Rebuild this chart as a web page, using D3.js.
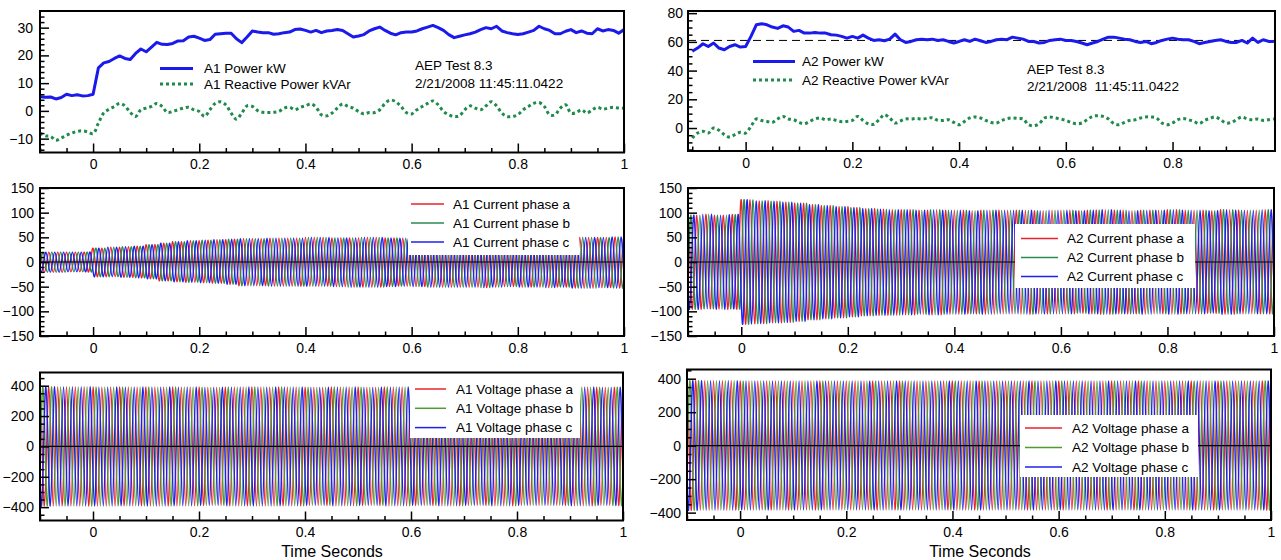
<!DOCTYPE html>
<html>
<head>
<meta charset="utf-8">
<script src="https://cdn.jsdelivr.net/npm/d3@7"></script>
<style>
  body { margin: 0; background: #fff; }
  svg { display: block; font-family: "Liberation Sans", Arial, Helvetica, sans-serif; }
</style>
</head>
<body>
<script>
// ---- data ----
// power traces: one sample every 10 ms starting at -0.1 s
const powerT0 = -0.1;
const powerStep = 0.01;

const a1Power = [
  5.1, 4.9, 5, 4.3, 4.8, 6, 5.5, 5.8, 5.4, 5.5,
  6,
  15.5, 17.3, 17.8, 18.9, 19.8, 18.9, 18.5, 20.7, 22.3, 21.3,
  23, 24.7, 24, 23.9, 24.3, 25.2, 25.3, 26.6, 26.9, 26.2,
  25.4, 25.7, 27.6, 27.8, 28, 28, 26, 24.6, 26.6, 28.8,
  28.4, 28.2, 28.2, 27.6, 27.8, 28.2, 28.4, 29.3, 29.5, 29,
  28.4, 29, 28.2, 28.8, 29, 29.3, 29, 27.8, 26.6, 27,
  27.5, 28.8, 29.6, 30.2, 29, 28, 27.4, 28.2, 28.4, 28.4,
  28.8, 29.6, 30.2, 30.8, 30, 29, 27.5, 26.4, 26.9, 27.4,
  27.8, 28.4, 29.3, 30, 29.6, 30.5, 28.8, 28.2, 27.8, 27.5,
  27.8, 28.4, 29, 30.5, 29.6, 29, 27.8, 27.8, 28.7, 29.3,
  28.2, 28.8, 28, 27.8, 29.6, 28.8, 29.3, 29, 28, 29.3
];
const a1Reactive = [
  -8, -9, -9.2, -10.6, -9.8, -8.8, -8, -7.4, -7.2, -7.6,
  -8.2,
  -4.4, -0.8, 0.6, 1.6, 2.7, 1.8, -0.6, -2, 0.4, 1,
  1.6, 2.7, 1.6, -0.6, -0.2, 0.4, 1, 1.3, 0.4, -0.2,
  -2, 0.4, 2.7, 3.3, 2.2, -0.8, -3, -0.8, 1.8, 1.6,
  0.1, -0.5, -0.6, -0.5, -0.2, 1, 1.3, 0.4, 1.3, 1.8,
  2.5, 1.3, -1.4, -1.8, -0.8, 1, 2.5, 1.6, 1, -0.2,
  -1.1, -0.6, -0.6, 0.4, 2.7, 3.9, 3.3, 1.6, -0.6, -1.1,
  0.4, 1.6, 2.7, 3.6, 2.2, -0.2, -1.4, -2, -1.8, 0.4,
  1.8, 1, 0.4, 1.8, 3.3, 1.8, -0.8, -2, -2, -1.4,
  0.4, 1.6, 2.7, 3, 1.6, -1.4, -1.4, 1, 2.2, -0.8,
  -0.6, 0.4, -0.8, 0.4, 1.3, 0.6, 1, 1.3, 1, 1
];
const a2Power = [
  53.4, 55.7, 58.7, 56.8, 59.2, 55.7, 54.5, 56.8, 58, 56.4,
  56.8,
  63.8, 71.9, 72.6, 71.9, 70.3, 69.4, 71.2, 70.3, 67.3, 68,
  66.1, 66.1, 66.6, 66.1, 66.1, 65, 64.7, 63.8, 62.6, 63.8,
  62.6, 64.7, 62.6, 61, 61.5, 60.8, 61.9, 65.4, 61.5, 59.6,
  60.3, 61.5, 61.9, 61.5, 61.9, 61, 61.5, 60.3, 59.2, 60.3,
  61.5, 60.3, 61.9, 60.8, 59.6, 60.3, 61.5, 61.9, 61.5, 63.3,
  62.6, 61.9, 60.3, 60.3, 59.2, 59.6, 61, 61.5, 61.9, 61,
  61, 60.3, 59.2, 58, 59.2, 60.3, 61.9, 63.3, 63.3, 62.6,
  61.9, 61.5, 60.3, 59.6, 60.3, 58.7, 59.6, 61, 61.9, 62.6,
  61.9, 61.5, 61.5, 60.3, 58.7, 59.6, 60.3, 61, 61.5, 60.3,
  59.6, 59.6, 61, 59.2, 62.6, 59.6, 61.5, 60.3, 60.3
];
const a2Reactive = [
  -7, -3.5, -2.3, -3.5, 0, -1.6, -4.6, -6.3, -4.6, -3,
  -3.5,
  1.2, 6.3, 5.3, 4.6, 3.9, 6.3, 8.1, 6.3, 5.8, 3.9,
  3, 4.6, 6.3, 7, 5.8, 6.3, 5.3, 4.4, 4.6, 5.3,
  8.1, 5.3, 3, 2.6, 5.8, 9.3, 7, 3.5, 4.9, 6.3,
  6.3, 6.7, 6.3, 6.7, 7.2, 5.3, 5.3, 5.8, 3.9, 2.3,
  4.6, 7, 7.7, 7, 5.3, 3.9, 3.5, 5.3, 6.5, 7,
  6.7, 6.3, 2.3, 1.6, 3, 7, 7.7, 7, 6.3, 5.3,
  3.9, 3, 3.5, 5.8, 8.1, 8.6, 8.1, 6.3, 3, 2.3,
  3.9, 5.3, 5.8, 7, 7.7, 7.7, 7, 3.5, 2.3, 3.5,
  5.8, 6.7, 5.8, 4.6, 3, 5.3, 6.7, 7.7, 5.8, 3.5,
  3.9, 5.8, 7.7, 6.3, 5.8, 6.3, 5.3, 5.8, 6.3
];
const a2PowerRef = 61; // dashed reference level

// waveforms: 60 Hz, peak envelopes per segment starting at -0.1 s
const lineFreq = 60;
const waveT0 = -0.1;
const currentEnvStep = 0.025;
const voltageEnvStep = 0.05;
const a1CurrentPos = [
  20, 20, 20, 20, 28, 30, 31, 32, 35, 38, 41, 43, 44, 45, 46, 47, 47, 48, 48, 48, 50, 50,
  49, 49, 50, 50, 49, 48, 48, 49, 49, 49, 49, 49, 50, 50, 49, 48, 48, 49, 50, 50, 50, 51
];
const a1CurrentNeg = [
  -21, -21, -20, -20, -30, -30, -31, -32, -34, -38, -40, -41, -42, -43, -45, -48, -48, -49, -49, -49, -49, -49,
  -50, -51, -51, -51, -50, -49, -50, -51, -51, -51, -51, -52, -51, -50, -51, -51, -52, -51, -53, -53, -52, -53
];
const a2CurrentPos = [
  95, 97, 95, 96, 126, 124, 123, 121, 119, 116, 114, 112, 110, 108, 107, 106, 106, 105, 106, 105, 105, 104,
  105, 105, 105, 105, 104, 105, 105, 104, 105, 106, 105, 104, 105, 105, 106, 105, 105, 104, 106, 105, 105, 106
];
const a2CurrentNeg = [
  -96, -95, -96, -95, -126, -125, -123, -122, -120, -117, -115, -113, -111, -109, -108, -108, -107, -106, -107, -106, -106, -105,
  -106, -105, -105, -106, -105, -105, -105, -104, -105, -106, -105, -105, -106, -105, -106, -105, -105, -104, -106, -105, -105, -105
];
const a1VoltagePos = [394, 393, 392, 391, 392, 391, 390, 391, 392, 391, 390, 391, 390, 391, 390, 391, 390, 391, 390, 390, 391, 390];
const a1VoltageNeg = [-393, -393, -392, -391, -392, -391, -390, -391, -392, -391, -390, -391, -390, -391, -390, -391, -390, -391, -390, -390, -391, -390];
const a2VoltagePos = [388, 388, 387, 386, 387, 386, 386, 387, 386, 386, 387, 386, 386, 387, 386, 386, 387, 386, 386, 387, 386, 386];
const a2VoltageNeg = [-386, -386, -385, -385, -385, -384, -384, -385, -384, -384, -385, -384, -384, -385, -384, -384, -385, -384, -384, -385, -384, -384];

const phaseNames = ['a', 'b', 'c'];
const phaseShift = [0, 1 / 3, 2 / 3];

// ticks
const timeTicks = [0, 0.2, 0.4, 0.6, 0.8, 1];
const timeMinorStep = 0.05;

const W = 1281, H = 560;
const svg = d3.select('body').append('svg').attr('width', W).attr('height', H);
const defs = svg.append('defs');

const RED = '#e8232b', BLUE = '#2020ee';
const GREEN_I = '#2b8a52', GREEN_V = '#4f9a33';
const POWER_BLUE = '#1a1aec', REACT_GREEN = '#1f8a4c';

let clipId = 0;
function panel(cfg) {
  const x = d3.scaleLinear().domain(cfg.xDomain).range(cfg.xRange);
  const y = d3.scaleLinear().domain(cfg.yDomain).range(cfg.yRange);
  const g = svg.append('g');
  const id = 'clip' + (clipId++);
  defs.append('clipPath').attr('id', id).append('rect')
    .attr('x', cfg.xRange[0]).attr('y', cfg.yRange[1])
    .attr('width', cfg.xRange[1] - cfg.xRange[0])
    .attr('height', cfg.yRange[0] - cfg.yRange[1]);
  const plot = g.append('g').attr('clip-path', `url(#${id})`);

  const inX = v => v >= cfg.xDomain[0] - 1e-9 && v <= cfg.xDomain[1] + 1e-9;
  const xMajor = timeTicks.filter(inX);
  const xMinor = d3.range(-0.1, 1.0001, timeMinorStep)
    .map(v => +v.toFixed(3)).filter(v => inX(v) && !xMajor.some(m => Math.abs(m - v) < 1e-6));

  const ax = g.append('g').attr('transform', `translate(0,${cfg.yRange[0]})`);
  ax.append('g').call(d3.axisBottom(x).tickValues(xMinor).tickSizeInner(-4.5).tickSizeOuter(0).tickFormat(''));
  ax.append('g').call(d3.axisBottom(x).tickValues(xMajor).tickSizeInner(-9).tickSizeOuter(0)
    .tickPadding(7).tickFormat(d3.format('~g')));

  const yMinor = d3.range(cfg.yDomain[0] - (cfg.yDomain[0] % cfg.yMinor), cfg.yDomain[1], cfg.yMinor)
    .filter(v => v >= cfg.yDomain[0] && v <= cfg.yDomain[1] && !cfg.yTicks.includes(v));
  const ay = g.append('g').attr('transform', `translate(${cfg.xRange[0]},0)`);
  ay.append('g').call(d3.axisLeft(y).tickValues(yMinor).tickSizeInner(-4.5).tickSizeOuter(0).tickFormat(''));
  ay.append('g').call(d3.axisLeft(y).tickValues(cfg.yTicks).tickSizeInner(-9).tickSizeOuter(0)
    .tickPadding(cfg.yPad || 6));

  g.selectAll('.domain').remove();
  g.selectAll('.tick line').attr('stroke', '#000').attr('stroke-width', 1.5);
  g.selectAll('.tick text').attr('font-size', 14).attr('fill', '#000');

  const top = g.append('g');
  const frame = () => top.append('rect')
    .attr('x', cfg.xRange[0]).attr('y', cfg.yRange[1])
    .attr('width', cfg.xRange[1] - cfg.xRange[0])
    .attr('height', cfg.yRange[0] - cfg.yRange[1])
    .attr('fill', 'none').attr('stroke', '#000').attr('stroke-width', 2);
  return { x, y, g, plot, top, frame };
}

function powerPanel(cfg, power, reactive, labels) {
  const p = panel(cfg);
  const pts = arr => arr.map((v, i) => [powerT0 + i * powerStep, v]);
  const line = d3.line().x(d => p.x(d[0])).y(d => p.y(d[1]));
  if (cfg.refLevel != null) {
    p.plot.append('line')
      .attr('x1', cfg.xRange[0]).attr('x2', cfg.xRange[1])
      .attr('y1', p.y(cfg.refLevel)).attr('y2', p.y(cfg.refLevel))
      .attr('stroke', '#000').attr('stroke-width', 1).attr('stroke-dasharray', '8,5');
  }
  p.plot.append('path').datum(pts(reactive))
    .attr('d', line.curve(d3.curveCatmullRom)).attr('fill', 'none')
    .attr('stroke', REACT_GREEN).attr('stroke-width', 3).attr('stroke-dasharray', '3,3');
  p.plot.append('path').datum(pts(power))
    .attr('d', line.curve(d3.curveLinear)).attr('fill', 'none')
    .attr('stroke', POWER_BLUE).attr('stroke-width', 3).attr('stroke-linejoin', 'round');

  const L = cfg.legend;
  p.top.append('line').attr('x1', L.x).attr('x2', L.x + L.len).attr('y1', L.y1).attr('y2', L.y1)
    .attr('stroke', POWER_BLUE).attr('stroke-width', 3);
  p.top.append('line').attr('x1', L.x).attr('x2', L.x + L.len).attr('y1', L.y2).attr('y2', L.y2)
    .attr('stroke', REACT_GREEN).attr('stroke-width', 3).attr('stroke-dasharray', '3,3');
  p.top.append('text').attr('x', L.tx).attr('y', L.y1 + 4.5).attr('font-size', 13.5).text(labels[0]);
  p.top.append('text').attr('x', L.tx).attr('y', L.y2 + 4.5).attr('font-size', 13.5).text(labels[1]);
  p.top.append('text').attr('x', L.ix).attr('y', L.iy1).attr('font-size', 13.5).text('AEP Test 8.3');
  p.top.append('text').attr('x', L.ix).attr('y', L.iy2).attr('font-size', 13.5)
    .attr('xml:space', 'preserve').style('white-space', 'pre').text(labels[2]);
  p.frame();
}

function phasePoints(pos, neg, shift, step) {
  const pts = [];
  for (let k = -3; ; k++) {
    const t = waveT0 + (k / 2 + shift) / lineFreq;
    if (t > 1.03) break;
    const seg = Math.max(0, Math.min(pos.length - 1, Math.floor((t - waveT0) / step)));
    const even = ((k % 2) + 2) % 2 === 0;
    pts.push([t, even ? pos[seg] : neg[seg]]);
  }
  return pts;
}

function wavePanel(cfg, pos, neg, step, prefix, colors) {
  const p = panel(cfg);
  const line = d3.line().x(d => p.x(d[0])).y(d => p.y(d[1])).curve(d3.curveNatural);
  phaseNames.forEach((ph, i) => {
    p.plot.append('path').datum(phasePoints(pos, neg, phaseShift[i], step))
      .attr('d', line).attr('fill', 'none').attr('stroke', colors[i]).attr('stroke-width', 1.4);
  });
  p.plot.append('line').attr('x1', cfg.xRange[0]).attr('x2', cfg.xRange[1])
    .attr('y1', p.y(0)).attr('y2', p.y(0)).attr('stroke', '#000').attr('stroke-width', 1.2);

  const L = cfg.legend;
  p.top.append('rect').attr('x', L.bx).attr('y', L.by).attr('width', L.bw).attr('height', L.bh).attr('fill', '#fff');
  phaseNames.forEach((ph, i) => {
    const yy = L.y0 + i * L.dy;
    p.top.append('line').attr('x1', L.x).attr('x2', L.x + L.len).attr('y1', yy).attr('y2', yy)
      .attr('stroke', colors[i]).attr('stroke-width', 1.5);
    p.top.append('text').attr('x', L.tx).attr('y', yy + 4.5).attr('font-size', 13.5)
      .text(`${prefix} phase ${ph}`);
  });
  p.frame();
}

// ---- panels ----
powerPanel({
  xDomain: [-0.1, 1], xRange: [40, 624], yDomain: [-15, 36], yRange: [152.5, 11],
  yTicks: [-10, 0, 10, 20, 30], yMinor: 2, yPad: 7,
  legend: { x: 160, len: 33, y1: 68.5, y2: 84, tx: 204, ix: 415, iy1: 69.5, iy2: 87.5 }
}, a1Power, a1Reactive, ['A1 Power kW', 'A1 Reactive Power kVAr', '2/21/2008 11:45:11.0422']);

powerPanel({
  xDomain: [-0.108, 0.992], xRange: [688, 1275], yDomain: [-16, 81.5], yRange: [151, 11],
  yTicks: [0, 20, 40, 60, 80], yMinor: 5, yPad: 5, refLevel: a2PowerRef,
  legend: { x: 753, len: 42, y1: 61.5, y2: 80, tx: 802, ix: 1027, iy1: 73.5, iy2: 91 }
}, a2Power, a2Reactive, ['A2 Power kW', 'A2 Reactive Power kVAr', '2/21/2008  11:45:11.0422']);

wavePanel({
  xDomain: [-0.1, 1], xRange: [40, 624], yDomain: [-150, 150], yRange: [336, 188],
  yTicks: [-150, -100, -50, 0, 50, 100, 150], yMinor: 10, yPad: 6,
  legend: { bx: 408, by: 189, bw: 171, bh: 66, x: 411, len: 33, y0: 204, dy: 19, tx: 453 }
}, a1CurrentPos, a1CurrentNeg, currentEnvStep, 'A1 Current', [RED, GREEN_I, BLUE]);

wavePanel({
  xDomain: [-0.1, 1], xRange: [688, 1274], yDomain: [-150, 150], yRange: [336, 188],
  yTicks: [-150, -100, -50, 0, 50, 100, 150], yMinor: 10, yPad: 6,
  legend: { bx: 1015, by: 224, bw: 180, bh: 64, x: 1021, len: 37, y0: 238.5, dy: 19, tx: 1067 }
}, a2CurrentPos, a2CurrentNeg, currentEnvStep, 'A2 Current', [RED, GREEN_I, BLUE]);

wavePanel({
  xDomain: [-0.1, 1], xRange: [40, 623], yDomain: [-488, 487], yRange: [520.5, 372.5],
  yTicks: [-400, -200, 0, 200, 400], yMinor: 50, yPad: 6,
  legend: { bx: 410, by: 373, bw: 170, bh: 65, x: 415, len: 31, y0: 389, dy: 19.3, tx: 456 }
}, a1VoltagePos, a1VoltageNeg, voltageEnvStep, 'A1 Voltage', [RED, GREEN_V, BLUE]);

wavePanel({
  xDomain: [-0.1, 1], xRange: [687, 1271], yDomain: [-444, 455], yRange: [520, 369.5],
  yTicks: [-400, -200, 0, 200, 400], yMinor: 50, yPad: 6,
  legend: { bx: 1020, by: 415, bw: 178, bh: 62, x: 1025, len: 37, y0: 428, dy: 19.5, tx: 1072 }
}, a2VoltagePos, a2VoltageNeg, voltageEnvStep, 'A2 Voltage', [RED, GREEN_V, BLUE]);

// axis titles
svg.append('text').attr('x', 332).attr('y', 557).attr('text-anchor', 'middle')
  .attr('font-size', 16).text('Time Seconds');
svg.append('text').attr('x', 980).attr('y', 557).attr('text-anchor', 'middle')
  .attr('font-size', 16).text('Time Seconds');
</script>
</body>
</html>
